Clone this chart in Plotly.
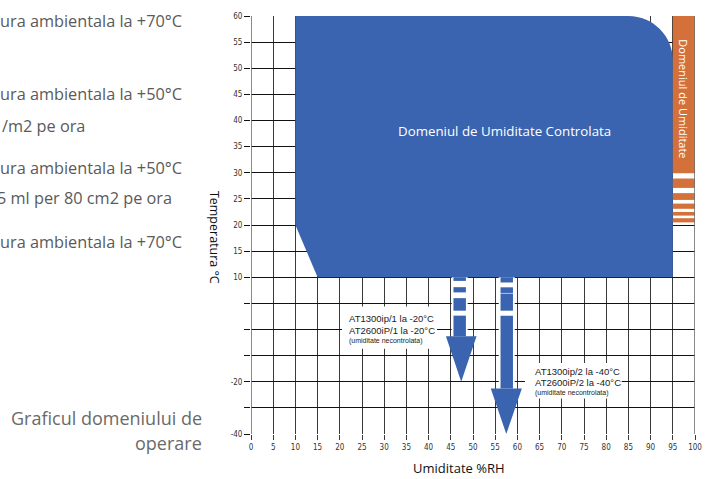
import plotly.graph_objects as go

# ---------------- data ----------------
x_ticks = list(range(0, 101, 5))
x_tick_labels = [str(v) for v in x_ticks]

# y positions of the grid (the lower part of the scale is compressed in the original)
y_ticks = list(range(60, -21, -5))
y_tick_labels = ["60", "55", "50", "45", "40", "35", "30", "25", "20", "15", "10",
                 "", "", "", "-20", "", "-40"]

# controlled-humidity domain outline (RH %, temperature grid units)
domain_x = [10, 85, 95, 95, 15, 10]
domain_y = [60, 60, 51.5, 10, 10, 20]
corner_ctrl_x = [90.5, 95]
corner_ctrl_y = [60, 56.2]

# humidity-range band on the right (orange, with white stripes)
band_x = [95, 100]
band_top = [60, 28.9, 26.1, 24.1, 22.5, 21.3]
band_bottom = [29.9, 27.1, 24.8, 23.1, 21.8, 20.5]

# arrows (uncontrolled humidity extension)
arrow1_shaft_x = [45.6, 48.4]
arrow1_seg_top = [10, 8.1, 6.0, 2.65]
arrow1_seg_bottom = [9.3, 7.1, 3.6, -1.3]
arrow1_head_x = [43.9, 50.8]
arrow1_head_y = -1.3
arrow1_tip = [47.35, -10]

arrow2_shaft_x = [56.2, 59.0]
arrow2_seg_top = [10, 8.07, 6.88, 2.65]
arrow2_seg_bottom = [9.0, 7.0, 3.6, -11.3]
arrow2_head_x = [54.0, 61.0]
arrow2_head_y = -11.3
arrow2_tip = [57.5, -20]

label1_lines = ["AT1300ip/1 la -20°C", "AT2600iP/1 la -20°C", "(umiditate necontrolata)"]
label2_lines = ["AT1300ip/2 la -40°C", "AT2600iP/2 la -40°C", "(umiditate necontrolata)"]

left_texts = ["ura ambientala la +70°C", "ura ambientala la +50°C", "/m2 pe ora",
              "ura ambientala la +50°C", "5 ml per 80 cm2 pe ora", "ura ambientala la +70°C"]

BLUE = "#3a63b0"
ORANGE = "#d4703a"
NARROW = "Liberation Sans Narrow, Arial Narrow, DejaVu Sans Condensed, sans-serif"
SANS = "Open Sans, Noto Sans, sans-serif"

W, H = 715, 479
L, R, T, B = 251, 20, 12, 45
PW, PH = W - L - R, H - T - B


def px2paper_x(px):
    return (px - L) / PW


def px2paper_y(py):
    return (H - B - py) / PH


fig = go.Figure()
fig.add_trace(go.Scatter(x=[0, 100], y=[-20, 60], mode="markers",
                         marker=dict(opacity=0), hoverinfo="skip", showlegend=False))

shapes = []

# main domain with rounded top-right corner
path = (f"M {domain_x[0]},{domain_y[0]} L {domain_x[1]},{domain_y[1]} "
        f"C {corner_ctrl_x[0]},{corner_ctrl_y[0]} {corner_ctrl_x[1]},{corner_ctrl_y[1]} "
        f"{domain_x[2]},{domain_y[2]} "
        + " ".join(f"L {x},{y}" for x, y in zip(domain_x[3:], domain_y[3:])) + " Z")
shapes.append(dict(type="path", path=path, xref="x", yref="y",
                   fillcolor=BLUE, line=dict(width=0), layer="above"))

# orange band
for t, b in zip(band_top, band_bottom):
    shapes.append(dict(type="rect", xref="x", yref="y", x0=band_x[0], x1=band_x[1],
                       y0=b, y1=t, fillcolor=ORANGE, line=dict(width=0)))


def add_arrow(shaft_x, seg_top, seg_bottom, head_x, head_y, tip):
    # white halo behind shaft
    shapes.append(dict(type="rect", xref="x", yref="y", x0=shaft_x[0] - 0.4, x1=shaft_x[1] + 0.4,
                       y0=head_y, y1=seg_top[0], fillcolor="white", line=dict(width=0)))
    for t, b in zip(seg_top, seg_bottom):
        shapes.append(dict(type="rect", xref="x", yref="y", x0=shaft_x[0], x1=shaft_x[1],
                           y0=b, y1=t, fillcolor=BLUE, line=dict(width=0)))
    shapes.append(dict(type="path", xref="x", yref="y",
                       path=f"M {head_x[0]},{head_y} L {head_x[1]},{head_y} L {tip[0]},{tip[1]} Z",
                       fillcolor=BLUE, line=dict(width=0)))


add_arrow(arrow1_shaft_x, arrow1_seg_top, arrow1_seg_bottom, arrow1_head_x, arrow1_head_y, arrow1_tip)
add_arrow(arrow2_shaft_x, arrow2_seg_top, arrow2_seg_bottom, arrow2_head_x, arrow2_head_y, arrow2_tip)

# white label boxes
box1 = dict(x0=20.5, x1=41.9, y0=-3.7, y1=4.4)
box2 = dict(x0=61.7, x1=83.5, y0=-13.2, y1=-6.4)
for bx in (box1, box2):
    shapes.append(dict(type="rect", xref="x", yref="y", fillcolor="white",
                       line=dict(width=0), **bx))

# side borders
for xv in (0, 100):
    shapes.append(dict(type="line", xref="x", yref="y", x0=xv, x1=xv, y0=-20, y1=60,
                       line=dict(color="#6e6e6e", width=1.6)))

annotations = []


def ann(**kw):
    kw.setdefault("showarrow", False)
    kw.setdefault("xanchor", "center")
    kw.setdefault("yanchor", "middle")
    annotations.append(kw)


# label texts
for lines, x_left, ys in ((label1_lines, 21.7, [317, 329.5, 340]),
                          (label2_lines, 63.4, [370.5, 382.5, 393])):
    for i, (txt, py) in enumerate(zip(lines, ys)):
        ann(text=txt, xref="x", yref="paper", x=x_left, y=px2paper_y(py), xanchor="left",
            font=dict(family="Liberation Sans, Arial, sans-serif",
                      size=9.5 if i < 2 else 7, color="#222"))

ann(text="Domeniul de Umiditate Controlata", xref="x", yref="paper",
    x=57, y=px2paper_y(128), font=dict(family=SANS, size=13.3, color="white"))
ann(text="Domeniul de Umiditate", xref="x", yref="paper",
    x=97.5, y=px2paper_y(96), textangle=90, font=dict(family=SANS, size=11, color="white"))

ann(text="Temperatura °C", xref="paper", yref="paper",
    x=px2paper_x(214), y=px2paper_y(235), textangle=90,
    font=dict(family=SANS, size=12.5, color="#111"))
ann(text="Umiditate %RH", xref="paper", yref="paper",
    x=px2paper_x(459), y=px2paper_y(468), font=dict(family=SANS, size=13, color="#111"))

left_ys = [17, 91, 123, 165, 196, 240]
left_xs = [-2, -2, 0, -2, -5, -2]
for txt, py, pxl in zip(left_texts, left_ys, left_xs):
    ann(text=txt, xref="paper", yref="paper", x=px2paper_x(pxl), y=px2paper_y(py),
        xanchor="left", font=dict(family=SANS, size=16.3, color="#5a5a5a"))

for txt, py in (("Graficul domeniului de", 418), ("operare", 443)):
    ann(text=txt, xref="paper", yref="paper", x=px2paper_x(204), y=px2paper_y(py),
        xanchor="right", font=dict(family=SANS, size=18, color="#6a6a6a"))

fig.update_layout(
    width=W, height=H,
    margin=dict(l=L, r=R, t=T, b=B, pad=0),
    paper_bgcolor="white", plot_bgcolor="white",
    showlegend=False,
    shapes=shapes,
    annotations=annotations,
    xaxis=dict(range=[0, 100], tickmode="array", tickvals=x_ticks, ticktext=x_tick_labels,
               showgrid=True, gridcolor="#3a3a3a", gridwidth=1.2, zeroline=False,
               ticks="outside", ticklen=5, tickcolor="#3a3a3a", tickwidth=1.2,
               tickfont=dict(family=NARROW, size=8, color="#333"), showline=False,
               fixedrange=True),
    yaxis=dict(range=[-20, 60], tickmode="array", tickvals=y_ticks, ticktext=y_tick_labels,
               showgrid=True, gridcolor="#111", gridwidth=1, zeroline=False,
               ticks="outside", ticklen=6, tickcolor="#111", tickwidth=1,
               tickfont=dict(family=NARROW, size=8, color="#333"), showline=False,
               fixedrange=True),
)

fig.write_html("out.html", config={"displayModeBar": False},
               post_script="document.body.style.margin='0px';document.body.style.overflow='hidden';")
